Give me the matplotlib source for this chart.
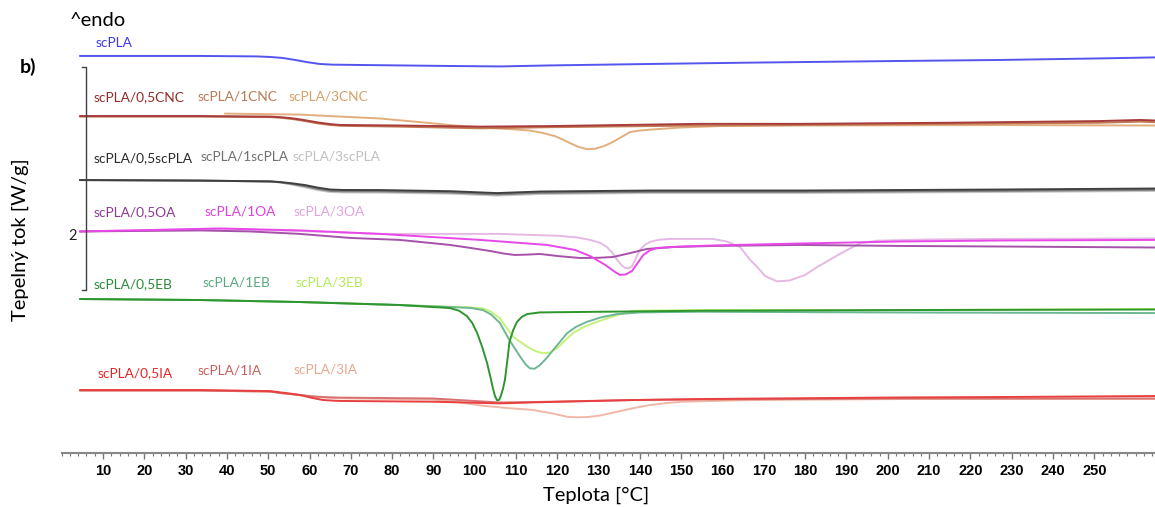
import numpy as np
import matplotlib
matplotlib.use('Agg')
import matplotlib.pyplot as plt

plt.rcParams['font.family'] = ['Lato', 'DejaVu Sans']

# DSC krivky: teplota [°C] a relativni tepelny tok [W/g] (posunute o offset)
# scPLA
t_pla = [4.4, 33.5, 47, 50.4, 53.5, 56.5, 59.5, 62.5, 65.5, 72.2, 94, 106.1, 118.2, 142.4, 166.7, 203,
         227.2, 251.4, 264.7]
h_pla = [0, 0, -0.004, -0.009, -0.018, -0.036, -0.056, -0.072, -0.078, -0.081, -0.090, -0.094, -0.085,
         -0.072, -0.060, -0.045, -0.036, -0.022, -0.013]

# CNC
t_05cnc = [4.4, 33.5, 50.5, 52.9, 55.3, 57.7, 60.1, 62.5, 65, 67.4, 81.9, 101.3, 118.2, 154.5, 178.8,
           215.1, 251.4, 261.1, 264.7]
h_05cnc = [0, 0, -0.005, -0.01, -0.018, -0.03, -0.045, -0.06, -0.072, -0.08, -0.085, -0.095, -0.09,
           -0.07, -0.07, -0.06, -0.045, -0.035, -0.04]
t_1cnc = [4.4, 33.5, 50.5, 52.9, 55.9, 58.9, 62, 65, 68, 81.9, 101.3, 118.2, 154.5, 178.8, 215.1,
          251.4, 261.1, 264.7]
h_1cnc = [-0.005, -0.005, -0.01, -0.015, -0.027, -0.045, -0.066, -0.08, -0.088, -0.095, -0.11, -0.10,
          -0.085, -0.08, -0.07, -0.06, -0.05, -0.055]
t_3cnc = [39.5, 57.7, 77.1, 89.2, 94, 101.3, 108.4, 113.4, 116.5, 119.4, 121.3, 123.1, 125.2, 127.2,
          129.3, 131.2, 132.8, 134.2, 136, 137.6, 140, 142.4, 149.7, 159.4, 178.8, 227.2, 264.7]
h_3cnc = [0.022, 0.013, -0.022, -0.063, -0.081, -0.103, -0.117, -0.13, -0.152, -0.18, -0.21, -0.243,
          -0.278, -0.297, -0.292, -0.27, -0.245, -0.216, -0.178, -0.144, -0.13, -0.122, -0.103, -0.09,
          -0.085, -0.081, -0.085]

# scPLA jako plnivo
t_spla = [4.4, 33.5, 50.5, 52.9, 55.9, 58.9, 62, 65, 68, 77.1, 94, 105.4, 115.8, 142.4, 178.8, 227.2,
          264.7]
h_05spla = [0, -0.005, -0.012, -0.018, -0.03, -0.045, -0.068, -0.085, -0.089, -0.09, -0.1, -0.117,
            -0.103, -0.094, -0.094, -0.085, -0.076]
h_1spla = [0, -0.005, -0.013, -0.02, -0.036, -0.055, -0.08, -0.097, -0.101, -0.102, -0.112, -0.129,
           -0.115, -0.106, -0.106, -0.097, -0.088]
h_3spla = [0, -0.005, -0.014, -0.022, -0.042, -0.065, -0.09, -0.107, -0.111, -0.112, -0.122, -0.139,
           -0.125, -0.116, -0.116, -0.107, -0.098]

# OA
t_05oa = [4.4, 33.5, 45.6, 57.7, 69.8, 81.9, 94, 99, 103.7, 107, 109.7, 112.5, 115.8, 120.5, 125.5,
          130, 133.5, 137.5, 141.7, 148, 157.7, 178.8, 203, 227.2, 264.7]
h_05oa = [0, 0.009, 0, -0.022, -0.058, -0.076, -0.121, -0.148, -0.175, -0.198, -0.211, -0.208, -0.202,
          -0.222, -0.238, -0.236, -0.229, -0.195, -0.157, -0.14, -0.13, -0.121, -0.13, -0.135, -0.144]
t_1oa = [4.4, 21.4, 38.3, 57.7, 77.1, 101.3, 117.5, 124.3, 127.9, 131.6, 134, 135.2, 136.6, 138.1,
         139.5, 140.8, 142.4, 144.1, 150, 157.7, 178.8, 203, 227.2, 264.7]
h_1oa = [0, 0.013, 0.027, 0.009, -0.022, -0.076, -0.121, -0.166, -0.22, -0.3, -0.365, -0.39, -0.385,
         -0.354, -0.28, -0.211, -0.17, -0.148, -0.135, -0.126, -0.108, -0.09, -0.081, -0.076]
t_3oa = [4.4, 38.3, 57.7, 77.1, 106.1, 120.7, 125, 127.9, 130.2, 132, 133.4, 134.5, 135.5, 136.4,
         137.3, 138.1, 139, 140, 141.2, 142.4, 144.5, 147.3, 157.7, 161, 164.2, 166.7, 168.4, 170.3, 173.2,
         176.3, 180, 182.9, 185.7, 188.4, 191, 193.3, 197.4, 210, 227.2, 264.7]
h_3oa = [0, 0.022, 0.004, -0.022, -0.022, -0.04, -0.055, -0.076, -0.1, -0.139, -0.195, -0.256, -0.3,
         -0.328, -0.33, -0.31, -0.24, -0.166, -0.12, -0.094, -0.075, -0.067, -0.067, -0.09, -0.139,
         -0.256, -0.319, -0.4, -0.448, -0.439, -0.39, -0.319, -0.26, -0.202, -0.15, -0.106, -0.083,
         -0.072, -0.067, -0.063]

# EB
t_05eb = [4.4, 33.5, 57.7, 81.9, 94, 96.2, 98.1, 99.4, 100.6, 101.8, 103, 103.8, 104.4, 104.9, 105.4,
          105.9, 106.3, 106.8, 107.3, 107.9, 108.4, 109.3, 110.2, 111.4, 112.7, 115.8, 154.5, 203, 264.7]
h_05eb = [0, -0.009, -0.027, -0.054, -0.081, -0.105, -0.153, -0.215, -0.306, -0.43, -0.576, -0.7, -0.8,
          -0.87, -0.908, -0.905, -0.872, -0.81, -0.728, -0.55, -0.387, -0.28, -0.207, -0.16, -0.135,
          -0.12, -0.105, -0.099, -0.094]
t_1eb = [4.4, 33.5, 57.7, 81.9, 99, 102, 104, 106.1, 108.4, 111, 112.4, 113.4, 114.5, 115.8, 117.4, 119,
         122.4, 124.5, 127.2, 130.5, 134.5, 140, 154.5, 203, 264.7]
h_1eb = [0, -0.009, -0.027, -0.054, -0.08, -0.099, -0.14, -0.215, -0.368, -0.517, -0.59, -0.622, -0.625,
         -0.592, -0.53, -0.457, -0.305, -0.25, -0.204, -0.165, -0.135, -0.12, -0.114, -0.121, -0.126]
t_3eb = [4.4, 33.5, 57.7, 81.9, 99, 102, 104, 106.1, 109.3, 112.7, 114.6, 116.5, 118.2, 119.9, 121.8,
         123.8, 126.2, 128.7, 131.5, 134.5, 138.3, 154.5, 203, 264.7]
h_3eb = [0, -0.009, -0.027, -0.054, -0.075, -0.084, -0.115, -0.173, -0.338, -0.428, -0.465, -0.487,
         -0.48, -0.442, -0.375, -0.305, -0.255, -0.218, -0.18, -0.144, -0.105, -0.099, -0.099, -0.09]

# IA
t_05ia = [4.4, 33.5, 50.5, 52.9, 55.3, 57.7, 60.5, 63.3, 67, 89.9, 106.1, 114.1, 138.3, 154.5, 203,
          227.2, 264.7]
h_05ia = [0, 0, -0.01, -0.021, -0.032, -0.045, -0.07, -0.09, -0.098, -0.105, -0.12, -0.111, -0.09,
          -0.081, -0.067, -0.063, -0.054]
t_1ia = [4.4, 33.5, 50.5, 52.9, 55.3, 57.7, 60.5, 63.3, 67, 89.9, 106.1, 114.1, 138.3, 154.5, 203, 264.7]
h_1ia = [-0.005, -0.005, -0.014, -0.027, -0.036, -0.045, -0.056, -0.063, -0.068, -0.076, -0.112,
         -0.108, -0.09, -0.085, -0.076, -0.076]
t_3ia = [4.4, 33.5, 50.5, 52.9, 55.3, 57.7, 60.5, 63.3, 67, 89.9, 96, 102, 108, 114.1, 118.5, 122.4,
         124.8, 127.5, 130.3, 134.5, 138.5, 142.4, 146.5, 150.4, 166.7, 203, 264.7]
h_3ia = [-0.005, -0.005, -0.014, -0.027, -0.036, -0.045, -0.058, -0.067, -0.074, -0.085, -0.11, -0.141,
         -0.162, -0.179, -0.208, -0.24, -0.245, -0.242, -0.229, -0.195, -0.162, -0.135, -0.117, -0.105,
         -0.09, -0.081, -0.081]

# posun skupin [W/g]
off_pla, off_cnc, off_spla, off_oa, off_eb, off_ia = 3.561, 3.022, 2.448, 1.987, 1.381, 0.565

# (teplota, tok, posun, barva cary, popisek, barva popisku, pozice popisku)
krivky = [
    (t_pla, h_pla, off_pla, '#5555ee', 'scPLA', '#3a3ae8', (8.1, 3.677)),
    (t_3cnc, h_3cnc, off_cnc, '#e2ae7e', 'scPLA/3CNC', '#d8a066', (55.0, 3.193)),
    (t_1cnc, h_1cnc, off_cnc, '#c27a52', 'scPLA/1CNC', '#b87a55', (33.0, 3.193)),
    (t_05cnc, h_05cnc, off_cnc, '#a83c3c', 'scPLA/0,5CNC', '#952a2a', (7.6, 3.193)),
    (t_spla, h_3spla, off_spla, '#c4c4c4', 'scPLA/3scPLA', '#c0c0c0', (56.0, 2.655)),
    (t_spla, h_1spla, off_spla, '#808080', 'scPLA/1scPLA', '#707070', (33.7, 2.655)),
    (t_spla, h_05spla, off_spla, '#404040', 'scPLA/0,5scPLA', '#2a2a2a', (7.6, 2.646)),
    (t_3oa, h_3oa, off_oa, '#e6b8e4', 'scPLA/3OA', '#dca6dc', (56.2, 2.170)),
    (t_05oa, h_05oa, off_oa, '#a652aa', 'scPLA/0,5OA', '#8c3a92', (7.6, 2.161)),
    (t_1oa, h_1oa, off_oa, '#e848e8', 'scPLA/1OA', '#e040e0', (34.5, 2.170)),
    (t_3eb, h_3eb, off_eb, '#c4f27a', 'scPLA/3EB', '#b4ea5c', (56.5, 1.525)),
    (t_1eb, h_1eb, off_eb, '#6cb894', 'scPLA/1EB', '#5aaa80', (34.0, 1.525)),
    (t_05eb, h_05eb, off_eb, '#2e962e', 'scPLA/0,5EB', '#2a8a3a', (7.6, 1.516)),
    (t_3ia, h_3ia, off_ia, '#f0b8a6', 'scPLA/3IA', '#e8a890', (56.2, 0.753)),
    (t_1ia, h_1ia, off_ia, '#d87272', 'scPLA/1IA', '#c86060', (32.8, 0.744)),
    (t_05ia, h_05ia, off_ia, '#e84040', 'scPLA/0,5IA', '#e02828', (8.6, 0.717)),
]

fig = plt.figure(figsize=(11.55, 5.07), dpi=100)
ax = fig.add_axes([61.7 / 1155, 54 / 507, 1 - 61.7 / 1155, 453 / 507])

for t, h, off, c, lab, lc, pos in krivky:
    ax.plot(t, np.array(h) + off, color=c, lw=1.4, solid_joinstyle='round', solid_capstyle='round')
    ax.text(pos[0], pos[1], lab, color=lc, fontsize=9.9, ha='left', va='center')

# meritko 2 W/g
ax.plot([5.0, 6.0, 6.0, 5.0], [3.462, 3.462, 1.462, 1.462], color='#404040', lw=1)
ax.text(2.7, 1.946, '2', fontsize=10.5, ha='center', va='center', color='#222222')

ax.set_xlim(0, 264.7)
ax.set_ylim(0, 453 / 111.5)
ax.set_xticks(np.arange(10, 251, 10))
ax.set_xticks(np.arange(0, 265, 2), minor=True)
ax.tick_params(axis='x', which='major', length=4, width=1, color='#777777', pad=4,
               labelsize=10.5)
ax.tick_params(axis='x', which='minor', length=2.5, width=0.8, color='#777777')
for lbl in ax.get_xticklabels():
    lbl.set_family('Liberation Sans')
    lbl.set_fontweight('bold')
ax.set_yticks([])
for s in ['left', 'top', 'right']:
    ax.spines[s].set_visible(False)
ax.spines['bottom'].set_color('#888888')
ax.spines['bottom'].set_linewidth(1.5)

fig.text(596 / 1155, 1 - 495 / 507, 'Teplota [°C]', fontsize=14.5, ha='center', va='center')
fig.text(20 / 1155, 1 - 240 / 507, 'Tepelný tok [W/g]', fontsize=14.5, ha='center', va='center',
         rotation=90)
fig.text(70 / 1155, 1 - 20 / 507, '^endo', fontsize=14.5, ha='left', va='center')
fig.text(28 / 1155, 1 - 67 / 507, 'b)', fontsize=14, fontweight='bold', ha='center', va='center')

fig.savefig('out.png', dpi=100)
